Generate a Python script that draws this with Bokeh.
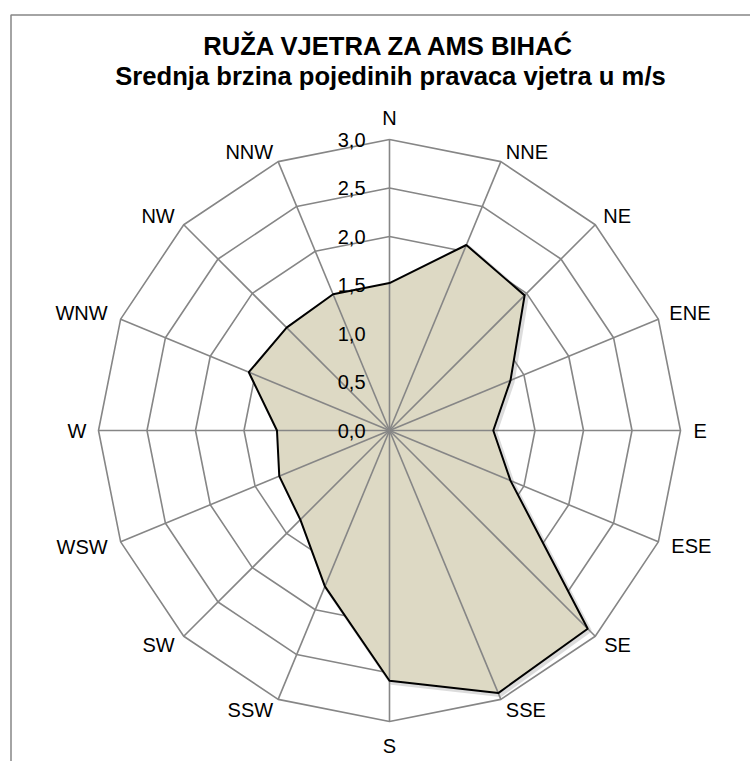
import math
from bokeh.plotting import figure
from bokeh.core.properties import value
from bokeh.embed import file_html
from bokeh.resources import INLINE

# ---- data ----
directions = ["N", "NNE", "NE", "ENE", "E", "ESE", "SE", "SSE",
              "S", "SSW", "SW", "WSW", "W", "WNW", "NW", "NNW"]
speeds = [1.52, 2.07, 1.97, 1.35, 1.07, 1.35, 2.89, 2.93,
          2.58, 1.74, 1.30, 1.23, 1.16, 1.57, 1.50, 1.52]
ticks = [0.0, 0.5, 1.0, 1.5, 2.0, 2.5, 3.0]
tick_labels = ["0,0", "0,5", "1,0", "1,5", "2,0", "2,5", "3,0"]
title1 = "RUŽA VJETRA ZA AMS BIHAĆ"
title2 = "Srednja brzina pojedinih pravaca vjetra u m/s"

# ---- layout ----
W, H = 750, 761
PX = 97.0                 # pixels per m/s
CX, CY = 389, 430         # centre in canvas pixels
rmax = ticks[-1]
n = len(directions)
GRID = "#868686"
FILL = "#DDD9C4"
FONT = "Liberation Sans"

# label offsets in pixels (dx right, dy down) from outer vertex
lab_off = [(0, -22, "center"), (5, -10, "left"), (8, -9, "left"), (11, -6, "left"),
           (13, 0, "left"), (13, 4, "left"), (9, 9, "left"), (5, 11, "left"),
           (0, 24, "center"), (-5, 11, "right"), (-9, 9, "right"), (-13, 5, "right"),
           (-12, 0, "right"), (-13, -6, "right"), (-9, -9, "right"), (-5, -10, "right")]

angles = [math.radians(90 - i * 360.0 / n) for i in range(n)]

p = figure(width=W, height=H, output_backend="svg", toolbar_location=None,
           x_range=(-CX / PX, (W - CX) / PX), y_range=(-(H - CY) / PX, CY / PX),
           min_border=0, outline_line_color=None)
p.axis.visible = False
p.grid.visible = False
p.background_fill_color = "white"
p.border_fill_color = "white"

# outer frame (left and top edges visible)
fx = (10.5 - CX) / PX
fy = (CY - 14.5) / PX
p.line([fx, fx, (W + 50 - CX) / PX], [-(H + 50 - CY) / PX, fy, fy],
       line_color=GRID, line_width=1.5)

# concentric grid polygons
for t in ticks[1:]:
    xs = [t * math.cos(a) for a in angles] + [t * math.cos(angles[0])]
    ys = [t * math.sin(a) for a in angles] + [t * math.sin(angles[0])]
    p.line(xs, ys, line_color=GRID, line_width=1.6)

# data polygon
vx = [s * math.cos(a) for s, a in zip(speeds, angles)]
vy = [s * math.sin(a) for s, a in zip(speeds, angles)]
sh = 2.0 / PX
p.line([x + sh for x in vx + vx[:1]], [y - sh for y in vy + vy[:1]],
       line_color="#808080", line_alpha=0.28, line_width=4)
p.patch(vx, vy, fill_color=FILL, line_color=None)

# spokes
p.segment(x0=[0] * n, y0=[0] * n,
          x1=[rmax * math.cos(a) for a in angles],
          y1=[rmax * math.sin(a) for a in angles],
          line_color=GRID, line_width=1.6)

# outline of data polygon
p.line(vx + vx[:1], vy + vy[:1], line_color="black", line_width=2)

# tick labels along N axis
p.text(x=[-24 / PX] * len(ticks), y=ticks, text=tick_labels,
       text_font=value(FONT), text_font_size="20px", text_color="black",
       text_align="right", text_baseline="middle")

# direction labels
for d, a, (dx, dy, al) in zip(directions, angles, lab_off):
    x = rmax * math.cos(a) + dx / PX
    y = rmax * math.sin(a) - dy / PX
    p.text(x=[x], y=[y], text=[d], text_font=value(FONT), text_font_size="20px",
           text_color="black", text_align=al, text_baseline="middle")

# titles
p.text(x=[0], y=[(CY - 45) / PX], text=[title1], text_font=value(FONT),
       text_font_size="25.6px", text_font_style="bold", text_color="black",
       text_align="center", text_baseline="middle")
p.text(x=[1 / PX], y=[(CY - 75) / PX], text=[title2], text_font=value(FONT),
       text_font_size="25.6px", text_font_style="bold", text_color="black",
       text_align="center", text_baseline="middle")

open("out.html", "w").write(file_html(p, INLINE))
